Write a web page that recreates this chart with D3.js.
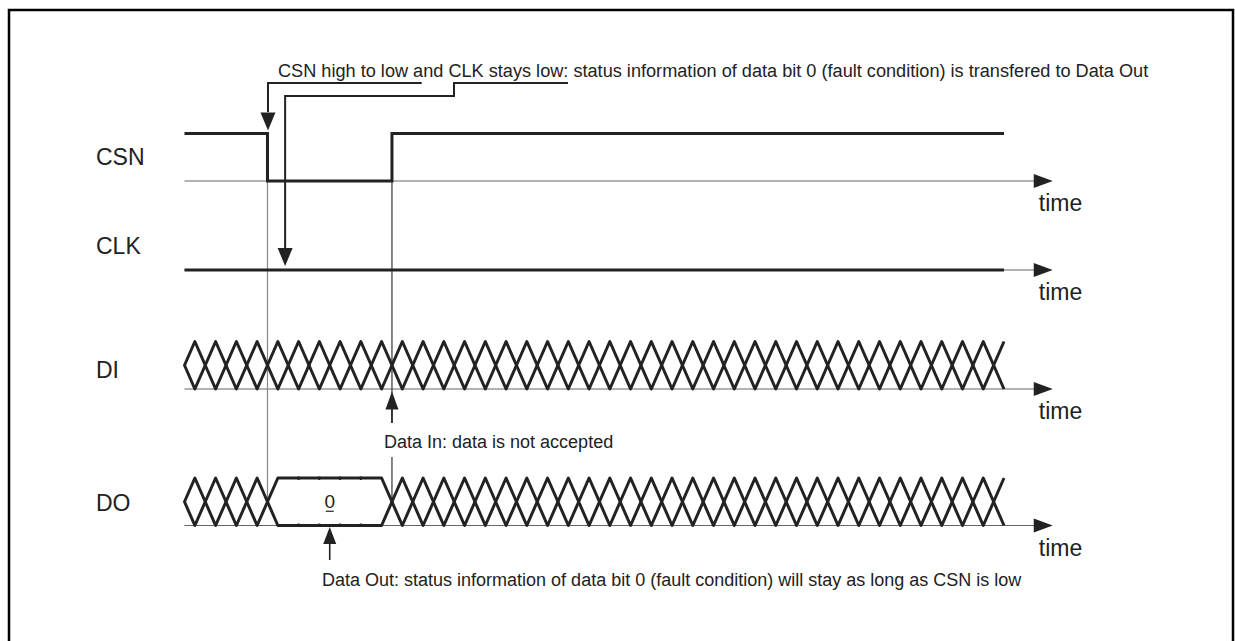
<!DOCTYPE html>
<html><head><meta charset="utf-8">
<script src="https://cdn.jsdelivr.net/npm/d3@7"></script>
<style>
html,body{margin:0;padding:0;background:#fff;}
svg{display:block;}
text{font-family:"Liberation Sans",Arial,sans-serif;fill:#222;}
</style></head>
<body>
<script>
// ---- data ----
const signals = ["CSN", "CLK", "DI", "DO"];
const timeLabel = "time";
const csnSteps = [[0, 1], [4, 0], [10, 1], [39.5, 1]];   // [time, level]
const clkSteps = [[0, 0], [39.5, 0]];
const diSegments = [[0, 39.5, "toggle", ""]];
const doSegments = [[0, 4, "toggle", ""], [4, 10, "bus", "0"], [10, 39.5, "toggle", ""]];
const markerTimes = [4, 10];          // vertical reference lines
const tEnd = 39.5, tAxisEnd = 41.85;
const noteTop = "CSN high to low and CLK stays low: status information of data bit 0 (fault condition) is transfered to Data Out";
const noteDI = "Data In: data is not accepted";
const noteDO = "Data Out: status information of data bit 0 (fault condition) will stay as long as CSN is low";
const noteDOTime = 7, noteCLKTime = 4.85;

// ---- layout ----
const W = 1235, H = 641;
const svg = d3.select("body").append("svg").attr("width", W).attr("height", H);
const x = d3.scaleLinear().domain([0, tEnd]).range([184.5, 1004]);
const base = d3.scaleOrdinal().domain(signals).range([181, 270, 389, 525.5]);
const labelY = d3.scaleOrdinal().domain(signals).range([165, 254, 378, 511]);
const amp = 47.5;
const ink = "#222";

// frame
svg.append("path").attr("d", "M9,650V10H1233V650").attr("fill", "none")
  .attr("stroke", "#000").attr("stroke-width", 2.5);

function arrowHead(px, tipY, dir, w = 15, h = 18) {
  svg.append("path")
    .attr("d", `M${px},${tipY}L${px - w / 2},${tipY - dir * h}L${px + w / 2},${tipY - dir * h}Z`)
    .attr("fill", ink);
}

// axes
signals.forEach(s => {
  const y = base(s);
  const xe = x(tAxisEnd);
  svg.append("line").attr("x1", x(0)).attr("x2", xe - 10).attr("y1", y).attr("y2", y)
    .attr("stroke", "#666").attr("stroke-width", 1.2);
  svg.append("path").attr("d", `M${xe},${y}L${xe - 19},${y - 7}L${xe - 19},${y + 7}Z`).attr("fill", ink);
  svg.append("text").attr("x", xe - 14).attr("y", y + 30).attr("font-size", 23).text(timeLabel);
  svg.append("text").attr("x", 96).attr("y", labelY(s)).attr("font-size", 23).text(s);
});

// vertical marker lines
svg.append("line").attr("x1", x(markerTimes[0])).attr("x2", x(markerTimes[0]))
  .attr("y1", base("CSN") - amp).attr("y2", base("DO") - amp / 2)
  .attr("stroke", "#888").attr("stroke-width", 1.2);
svg.append("line").attr("x1", x(markerTimes[1])).attr("x2", x(markerTimes[1]))
  .attr("y1", base("CSN") - amp).attr("y2", 423)
  .attr("stroke", ink).attr("stroke-width", 1.1);
svg.append("line").attr("x1", x(markerTimes[1])).attr("x2", x(markerTimes[1]))
  .attr("y1", 457).attr("y2", base("DO") - amp / 2)
  .attr("stroke", ink).attr("stroke-width", 1.1);

// step signals
function stepLine(sig, steps) {
  const y0 = base(sig);
  const line = d3.line().curve(d3.curveStepAfter).x(d => x(d[0])).y(d => y0 - d[1] * amp);
  svg.append("path").attr("d", line(steps)).attr("fill", "none")
    .attr("stroke", ink).attr("stroke-width", 3);
}
stepLine("CSN", csnSteps);
stepLine("CLK", clkSteps);

// bus signals
function bus(sig, segs) {
  const yb = base(sig), yt = yb - amp, ym = yb - amp / 2;
  const g = svg.append("g").attr("fill", "none").attr("stroke", ink)
    .attr("stroke-width", 3).attr("stroke-linejoin", "round");
  segs.forEach(([a, b, type, label]) => {
    if (type === "toggle") {
      for (let k = a; k < b; k++) {
        const e = Math.min(k + 1, b);
        if (e - k >= 1) {
          g.append("path").attr("d",
            `M${x(k)},${ym}L${x(k + .5)},${yt}L${x(e)},${ym}L${x(k + .5)},${yb}Z`);
        } else {
          g.append("path").attr("d",
            `M${x(k + .5)},${yt}L${x(k)},${ym}L${x(k + .5)},${yb}`);
        }
      }
    } else {
      g.append("path").attr("d",
        `M${x(a)},${ym}L${x(a + .5)},${yt}H${x(b - .5)}L${x(b)},${ym}L${x(b - .5)},${yb}H${x(a + .5)}Z`);
      for (let k = a + 1.5; k < b - .5; k++) {
        g.append("line").attr("x1", x(k)).attr("x2", x(k)).attr("y1", yt - 1.5).attr("y2", yt + 2)
          .attr("stroke-width", 2);
        g.append("line").attr("x1", x(k)).attr("x2", x(k)).attr("y1", yb - 2).attr("y2", yb + 1.5)
          .attr("stroke-width", 2);
      }
      const cx = x((a + b) / 2);
      svg.append("text").attr("x", cx).attr("y", ym + 6.5).attr("text-anchor", "middle")
        .attr("font-size", 19).text(label);
      svg.append("line").attr("x1", cx - 4).attr("x2", cx + 4).attr("y1", ym + 9.5).attr("y2", ym + 9.5)
        .attr("stroke", ink).attr("stroke-width", 1.2);
    }
  });
}
bus("DI", diSegments);
bus("DO", doSegments);

// top annotation
svg.append("text").attr("x", 278).attr("y", 77).attr("font-size", 18.15).text(noteTop);
const xa = x(markerTimes[0]) + 0.5, xb = x(noteCLKTime);
svg.append("path").attr("d", `M${xa},112V83H421.7`).attr("fill", "none")
  .attr("stroke", ink).attr("stroke-width", 2);
arrowHead(xa, base("CSN") - amp - 3, 1);
svg.append("path").attr("d", `M568,83H454V96H${xb}V248`).attr("fill", "none")
  .attr("stroke", ink).attr("stroke-width", 2);
arrowHead(xb, base("CLK") - 4, 1);

// DI note
const xdi = x(markerTimes[1]);
svg.append("line").attr("x1", xdi).attr("x2", xdi).attr("y1", 408).attr("y2", 423)
  .attr("stroke", ink).attr("stroke-width", 1.6);
arrowHead(xdi, base("DI") + 2.5, -1, 13, 18);
svg.append("text").attr("x", 384).attr("y", 448).attr("font-size", 18).text(noteDI);

// DO note
const xdo = x(noteDOTime);
svg.append("line").attr("x1", xdo).attr("x2", xdo).attr("y1", 541).attr("y2", 560)
  .attr("stroke", ink).attr("stroke-width", 1.6);
arrowHead(xdo, base("DO") + 1.5, -1, 13, 17);
svg.append("text").attr("x", 322).attr("y", 586).attr("font-size", 18).text(noteDO);
</script>
</body></html>
